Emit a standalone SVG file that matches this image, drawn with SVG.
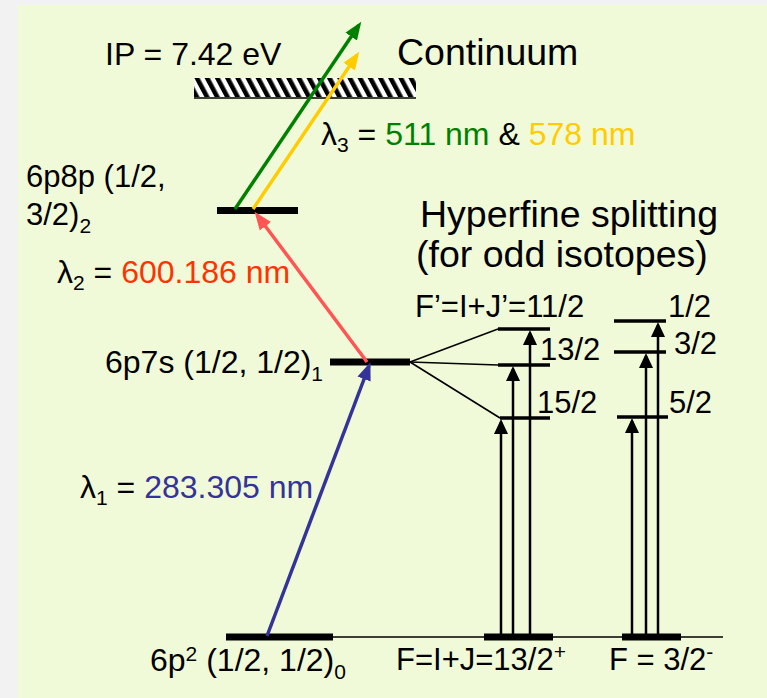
<svg xmlns="http://www.w3.org/2000/svg" width="767" height="698" viewBox="0 0 767 698">
<style>
text{font-family:"Liberation Sans",Arial,sans-serif;font-size:32px;fill:#000}
.big{font-size:37.5px}
.m{font-size:31px}
.sub{font-size:21px}
.lvl{stroke:#000;stroke-width:7;fill:none}
.hf{stroke:#000;stroke-width:3.5;fill:none}
.thin{stroke:#000;stroke-width:1.6;fill:none}
.va{stroke:#000;stroke-width:2.5;fill:none;marker-end:url(#ab)}
</style>
<defs>
<pattern id="hatch" patternUnits="userSpaceOnUse" width="9" height="9" patternTransform="rotate(-28)">
<rect width="9" height="9" fill="#fff"/>
<rect width="4.6" height="9" fill="#000"/>
</pattern>
<marker id="ab" markerUnits="userSpaceOnUse" markerWidth="16" markerHeight="16" viewBox="0 0 16 16" refX="12" refY="8" orient="auto"><path d="M0,1 L15,8 L0,15 Z" fill="#000"/></marker>
<marker id="ag" markerUnits="userSpaceOnUse" markerWidth="19" markerHeight="17" viewBox="0 0 19 17" refX="14" refY="8.5" orient="auto"><path d="M0,1.5 L18,8.5 L0,15.5 Z" fill="#008000"/></marker>
<marker id="ay" markerUnits="userSpaceOnUse" markerWidth="19" markerHeight="17" viewBox="0 0 19 17" refX="14" refY="8.5" orient="auto"><path d="M0,1.5 L18,8.5 L0,15.5 Z" fill="#FFCC00"/></marker>
<marker id="ar" markerUnits="userSpaceOnUse" markerWidth="19" markerHeight="17" viewBox="0 0 19 17" refX="14" refY="8.5" orient="auto"><path d="M0,1.5 L18,8.5 L0,15.5 Z" fill="#FF5555"/></marker>
<marker id="abl" markerUnits="userSpaceOnUse" markerWidth="19" markerHeight="17" viewBox="0 0 19 17" refX="14" refY="8.5" orient="auto"><path d="M0,1.5 L18,8.5 L0,15.5 Z" fill="#333399"/></marker>
</defs>
<rect width="767" height="698" fill="#F2F2F2"/>
<rect x="18" y="5" width="749" height="693" fill="#F1FAD8"/>

<g id="continuum">
<rect x="194" y="78" width="222" height="19" fill="url(#hatch)"/>
<line x1="194" y1="98" x2="416" y2="98" stroke="#000" stroke-width="1.6"/>
<text x="105" y="65">IP = 7.42 eV</text>
<text class="big" x="397" y="65">Continuum</text>
</g>

<g id="level-6p8p">
<line class="lvl" x1="217" y1="210.5" x2="298" y2="210.5"/>
<text class="m" x="26" y="187">6p8p (1/2,</text>
<text class="m" x="26" y="225">3/2)<tspan class="sub" dy="8">2</tspan></text>
</g>

<g id="level-6p7s">
<line class="lvl" x1="330" y1="362" x2="410" y2="362"/>
<text x="105" y="373">6p7s (1/2, 1/2)<tspan class="sub" dy="8">1</tspan></text>
</g>

<g id="level-ground">
<line class="lvl" x1="226" y1="637" x2="333" y2="637"/>
<line class="thin" x1="333" y1="637" x2="723" y2="637"/>
<text x="150" y="671">6p<tspan class="sub" dy="-10">2</tspan><tspan dy="10"> (1/2, 1/2)</tspan><tspan class="sub" dy="8">0</tspan></text>
</g>

<g id="hf-odd-13-2">
<line class="lvl" x1="484" y1="637" x2="553" y2="637"/>
<text class="m" x="396" y="670">F=I+J=13/2<tspan class="sub" dy="-11">+</tspan></text>
</g>

<g id="hf-odd-3-2">
<line class="lvl" x1="622" y1="637" x2="681" y2="637"/>
<text class="m" x="609" y="670">F = 3/2<tspan class="sub" dy="-11">-</tspan></text>
</g>

<g id="hf-title">
<text class="big" x="420" y="227">Hyperfine splitting</text>
<text class="big" x="416" y="267">(for odd isotopes)</text>
</g>

<g id="hf-left-levels">
<line class="hf" x1="498" y1="329" x2="550" y2="329"/>
<line class="hf" x1="498" y1="365" x2="550" y2="365"/>
<line class="hf" x1="500" y1="418" x2="550" y2="418"/>
<text class="m" x="415" y="317">F’=I+J’=11/2</text>
<text class="m" x="540" y="360">13/2</text>
<text class="m" x="537" y="413">15/2</text>
</g>

<g id="hf-right-levels">
<line class="hf" x1="614" y1="321" x2="666" y2="321"/>
<line class="hf" x1="614" y1="352" x2="666" y2="352"/>
<line class="hf" x1="617" y1="417" x2="668" y2="417"/>
<text class="m" x="668" y="317">1/2</text>
<text class="m" x="674" y="354">3/2</text>
<text class="m" x="669" y="413">5/2</text>
</g>

<g id="labels">
<text x="321" y="145">λ<tspan class="sub" dy="7">3</tspan><tspan dy="-7"> = </tspan><tspan fill="#008000">511 nm</tspan> &amp; <tspan fill="#FFCC00">578 nm</tspan></text>
<text x="57" y="283">λ<tspan class="sub" dy="7">2</tspan><tspan dy="-7"> = </tspan><tspan fill="#FF3300">600.186 nm</tspan></text>
<text x="80" y="498">λ<tspan class="sub" dy="7">1</tspan><tspan dy="-7"> = </tspan><tspan fill="#333399">283.305 nm</tspan></text>
</g>

<g id="connectors">
<line x1="235" y1="209" x2="359" y2="25" stroke="#008000" stroke-width="3.5" marker-end="url(#ag)"/>
<line x1="253" y1="209" x2="357" y2="55" stroke="#FFCC00" stroke-width="3.5" marker-end="url(#ay)"/>
<line x1="367" y1="362" x2="257" y2="215" stroke="#FF5555" stroke-width="3.5" marker-end="url(#ar)"/>
<line x1="267" y1="636" x2="369" y2="366" stroke="#333399" stroke-width="3.5" marker-end="url(#abl)"/>
<line class="thin" x1="410" y1="362" x2="498" y2="329"/>
<line class="thin" x1="410" y1="362" x2="498" y2="365"/>
<line class="thin" x1="410" y1="362" x2="500" y2="418"/>
<line class="va" x1="501" y1="637" x2="501" y2="422"/>
<line class="va" x1="513" y1="637" x2="513" y2="369"/>
<line class="va" x1="530" y1="637" x2="530" y2="333"/>
<line class="va" x1="632" y1="637" x2="632" y2="421"/>
<line class="va" x1="646" y1="637" x2="646" y2="356"/>
<line class="va" x1="658" y1="637" x2="658" y2="325"/>
</g>
</svg>
